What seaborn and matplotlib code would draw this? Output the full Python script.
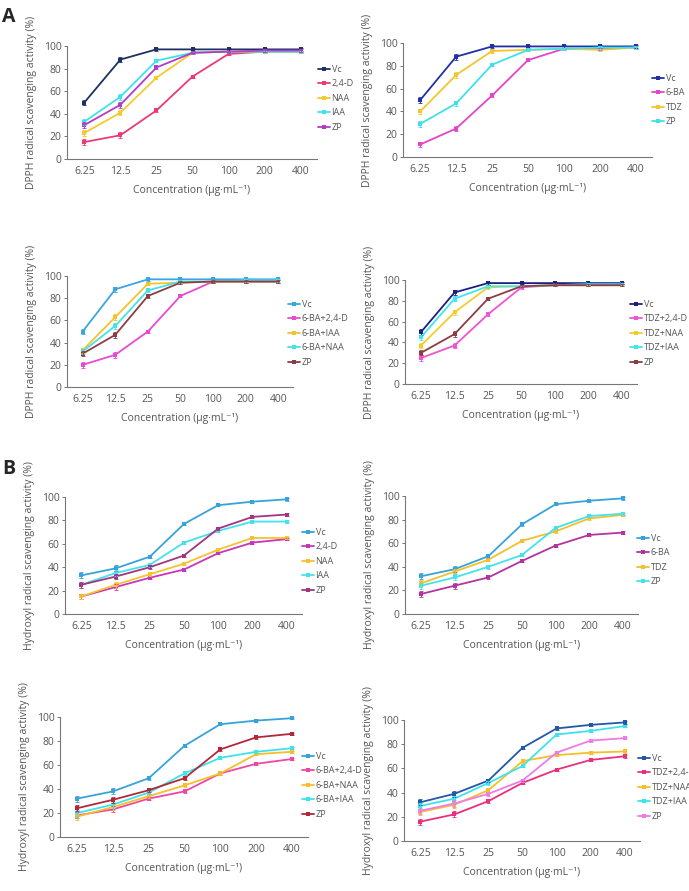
import matplotlib
matplotlib.use('Agg')
import matplotlib.pyplot as plt
from matplotlib.lines import Line2D
import seaborn as sns
import pandas as pd

sns.set_theme(style='white')
plt.rcParams['font.family'] = ['Open Sans', 'DejaVu Sans']

conc = ['6.25', '12.5', '25', '50', '100', '200', '400']
err = [2.5, 2.5, 1.5, 1.2, 1.0, 1.0, 1.0]

dpph_label = 'DPPH radical scavenging activity (%)'
oh_label = 'Hydroxyl radical scavenging activity (%)'
x_label = 'Concentration (μg·mL⁻¹)'

# ---- A: DPPH ----
a1_names = ['Vc', '2,4-D', 'NAA', 'IAA', 'ZP']
a1_vc = [50, 88, 97, 97, 97, 97, 97]
a1_24d = [15, 21, 43, 73, 93, 95, 95]
a1_naa = [23, 41, 72, 94, 95, 95, 95]
a1_iaa = [33, 55, 87, 94, 95, 95, 95]
a1_zp = [30, 48, 81, 94, 95, 96, 96]
a1_colors = ['#1f3163', '#ec3a75', '#f2cb2e', '#3de3ec', '#b23cc4']

a2_names = ['Vc', '6-BA', 'TDZ', 'ZP']
a2_vc = [50, 88, 97, 97, 97, 97, 97]
a2_6ba = [11, 25, 54, 85, 95, 95, 96]
a2_tdz = [40, 72, 93, 94, 95, 94, 96]
a2_zp = [29, 47, 81, 94, 95, 96, 96]
a2_colors = ['#2130a8', '#e445c8', '#f3c630', '#40e0ea']

a3_names = ['Vc', '6-BA+2,4-D', '6-BA+IAA', '6-BA+NAA', 'ZP']
a3_vc = [50, 88, 97, 97, 97, 97, 97]
a3_24d = [20, 29, 50, 82, 95, 95, 95]
a3_iaa = [33, 63, 93, 94, 95, 95, 95]
a3_naa = [32, 55, 87, 95, 95, 96, 96]
a3_zp = [30, 47, 82, 94, 95, 95, 95]
a3_colors = ['#3aa6e0', '#e84ad6', '#f4c22c', '#44e2ea', '#8c3d44']

a4_names = ['Vc', 'TDZ+2,4-D', 'TDZ+NAA', 'TDZ+IAA', 'ZP']
a4_vc = [50, 88, 97, 97, 97, 97, 97]
a4_24d = [25, 37, 67, 93, 95, 95, 95]
a4_naa = [37, 69, 93, 94, 95, 95, 95]
a4_iaa = [45, 82, 94, 94, 95, 96, 96]
a4_zp = [30, 48, 82, 94, 95, 95, 95]
a4_colors = ['#1d1f80', '#f054d4', '#f6cc2c', '#3ee6ee', '#8c3d44']

# ---- B: hydroxyl ----
b1_names = ['Vc', '2,4-D', 'NAA', 'IAA', 'ZP']
b1_vc = [33, 39, 49, 77, 93, 96, 98]
b1_24d = [15, 23, 31, 38, 52, 61, 64]
b1_naa = [15, 25, 34, 43, 55, 65, 65]
b1_iaa = [25, 35, 42, 61, 71, 79, 79]
b1_zp = [25, 32, 40, 50, 73, 83, 85]
b1_colors = ['#37a3da', '#c935b8', '#f5c232', '#44e2ec', '#a3347f']

b2_names = ['Vc', '6-BA', 'TDZ', 'ZP']
b2_vc = [32, 38, 49, 76, 93, 96, 98]
b2_6ba = [17, 24, 31, 45, 58, 67, 69]
b2_tdz = [26, 36, 46, 62, 70, 81, 84]
b2_zp = [24, 31, 40, 50, 73, 83, 85]
b2_colors = ['#37a3da', '#b4339f', '#f2c02e', '#44e2ec']

b3_names = ['Vc', '6-BA+2,4-D', '6-BA+NAA', '6-BA+IAA', 'ZP']
b3_vc = [32, 38, 49, 76, 94, 97, 99]
b3_24d = [18, 23, 32, 38, 53, 61, 65]
b3_naa = [17, 25, 34, 43, 53, 69, 71]
b3_iaa = [20, 27, 37, 53, 66, 71, 74]
b3_zp = [24, 31, 39, 49, 73, 83, 86]
b3_colors = ['#37a3da', '#f045a8', '#f4c02a', '#3ee2ea', '#b1283a']

b4_names = ['Vc', 'TDZ+2,4-D', 'TDZ+NAA', 'TDZ+IAA', 'ZP']
b4_vc = [32, 39, 50, 77, 93, 96, 98]
b4_24d = [16, 22, 33, 48, 59, 67, 70]
b4_naa = [24, 30, 42, 66, 71, 73, 74]
b4_iaa = [29, 35, 48, 62, 88, 91, 95]
b4_zp = [25, 31, 39, 50, 73, 83, 85]
b4_colors = ['#2457a6', '#e8307f', '#f4c02a', '#3ee2ea', '#f07ae6']

W, H = 689, 891
panels = [
    dict(box=(67, 317, 46, 159), yl=dpph_label, names=a1_names,
         vals=[a1_vc, a1_24d, a1_naa, a1_iaa, a1_zp], colors=a1_colors, leg=(318, 65)),
    dict(box=(403, 652, 43, 157), yl=dpph_label, names=a2_names,
         vals=[a2_vc, a2_6ba, a2_tdz, a2_zp], colors=a2_colors, leg=(652, 74)),
    dict(box=(67, 293, 276, 387), yl=dpph_label, names=a3_names,
         vals=[a3_vc, a3_24d, a3_iaa, a3_naa, a3_zp], colors=a3_colors, leg=(288, 300)),
    dict(box=(405, 637, 280, 384), yl=dpph_label, names=a4_names,
         vals=[a4_vc, a4_24d, a4_naa, a4_iaa, a4_zp], colors=a4_colors, leg=(630, 300)),
    dict(box=(65, 302, 497, 614), yl=oh_label, names=b1_names,
         vals=[b1_vc, b1_24d, b1_naa, b1_iaa, b1_zp], colors=b1_colors, leg=(302, 528)),
    dict(box=(405, 638, 496, 614), yl=oh_label, names=b2_names,
         vals=[b2_vc, b2_6ba, b2_tdz, b2_zp], colors=b2_colors, leg=(637, 534)),
    dict(box=(60, 308, 717, 837), yl=oh_label, names=b3_names,
         vals=[b3_vc, b3_24d, b3_naa, b3_iaa, b3_zp], colors=b3_colors, leg=(302, 752)),
    dict(box=(404, 640, 720, 841), yl=oh_label, names=b4_names,
         vals=[b4_vc, b4_24d, b4_naa, b4_iaa, b4_zp], colors=b4_colors, leg=(638, 754)),
]

fig = plt.figure(figsize=(W / 100, H / 100), dpi=100)
gray = '#555555'
pos = list(range(len(conc)))

for p in panels:
    l, r, t, b = p['box']
    ax = fig.add_axes([l / W, 1 - b / H, (r - l) / W, (b - t) / H])
    rows = []
    for name, vals in zip(p['names'], p['vals']):
        for i, v in enumerate(vals):
            rows.append({'pos': pos[i], 'value': v, 'series': name})
    df = pd.DataFrame(rows)
    sns.lineplot(data=df, x='pos', y='value', hue='series', hue_order=p['names'],
                 palette=p['colors'], marker='s', markersize=2.8, markeredgewidth=0,
                 linewidth=1.3, ax=ax, legend=False, clip_on=False, errorbar=None)
    for name, vals, c in zip(p['names'], p['vals'], p['colors']):
        ax.errorbar(pos, vals, yerr=err, fmt='none', ecolor=c, elinewidth=0.6,
                    capsize=1.5, capthick=0.6, clip_on=False)
    ax.set_xlim(-0.48, 6.45)
    ax.set_ylim(0, 100)
    ax.set_yticks([0, 20, 40, 60, 80, 100])
    ax.set_xticks(pos)
    ax.set_xticklabels(conc)
    ax.set_xticks([0.5, 1.5, 2.5, 3.5, 4.5, 5.5], minor=True)
    ax.tick_params(axis='x', which='major', length=0, pad=5, labelsize=7.5, labelcolor=gray)
    ax.tick_params(axis='x', which='minor', length=3, direction='in', width=0.7, color='#777777')
    ax.tick_params(axis='y', length=2, width=0.7, color='#777777', pad=2,
                   labelsize=7.5, labelcolor=gray, left=True)
    for s in ['top', 'right']:
        ax.spines[s].set_visible(False)
    for s in ['left', 'bottom']:
        ax.spines[s].set_color('#777777')
        ax.spines[s].set_linewidth(0.8)
    ax.set_xlabel(x_label, fontsize=7.5, color=gray, labelpad=6)
    ax.set_ylabel(p['yl'], fontsize=7.5, color=gray, labelpad=5)
    handles = [Line2D([0], [0], color=c, lw=1.3, marker='s', markersize=2.8,
                      markeredgewidth=0) for c in p['colors']]
    lx, ly = p['leg']
    ax.legend(handles, p['names'], loc='upper left',
              bbox_to_anchor=(lx / W, 1 - ly / H), bbox_transform=fig.transFigure,
              frameon=False, fontsize=6.5, labelcolor=gray, handlelength=1.3,
              handletextpad=0.2, labelspacing=0.6, borderpad=0, borderaxespad=0)

fig.text(2 / W, 1 - 17 / H, 'A', fontsize=14, fontweight='bold', va='center', ha='left')
fig.text(2 / W, 1 - 469 / H, 'B', fontsize=14, fontweight='bold', va='center', ha='left')

fig.savefig('out.png', dpi=100)
